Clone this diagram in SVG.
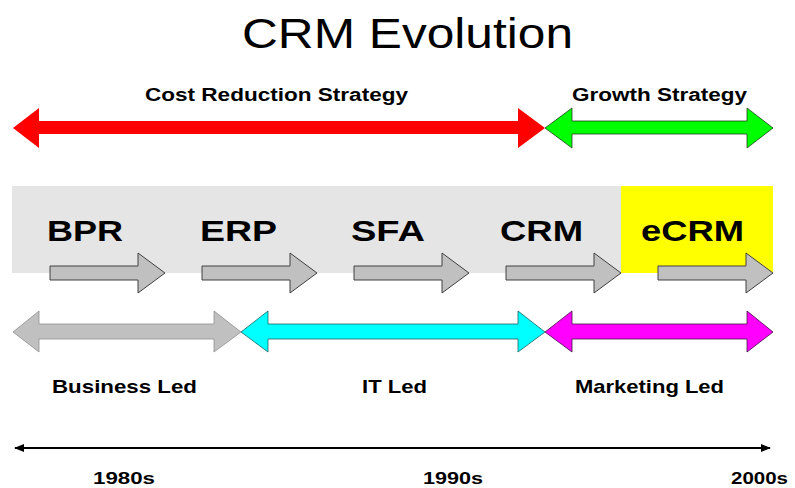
<svg xmlns="http://www.w3.org/2000/svg" xmlns:xlink="http://www.w3.org/1999/xlink" width="795" height="488" viewBox="0 0 795 488">
<style>
text{font-family:"Liberation Sans",Arial,sans-serif;fill:#000}
.b{font-weight:bold}
.lbl{font-size:17.5px}
.big{font-size:30px}
.led{font-size:18.5px}
.yr{font-size:17px}
.sa{fill:#c0c0c0;stroke:#404040;stroke-width:1}
</style>
<defs>
<path id="sm" d="M0,-7 H88 V-20 L115,0 L88,20 V7 H0 Z"/>
<marker id="ah" viewBox="0 0 10 8" refX="9" refY="4" markerWidth="5" markerHeight="4" orient="auto-start-reverse" markerUnits="strokeWidth">
<path d="M0,0 L10,4 L0,8 Z" fill="#000"/>
</marker>
</defs>
<rect width="795" height="488" fill="#fff"/>
<g id="title"><text x="242" y="48" font-size="42" textLength="331" lengthAdjust="spacingAndGlyphs">CRM Evolution</text></g>

<g id="strategy">
<polygon points="13,128 39,108 39,121 518,121 518,108 545,128 518,148 518,134 39,134 39,148" fill="#ff0000"/>
<polygon points="545,128 572,108 572,121 747,121 747,108 773,128 747,148 747,134 572,134 572,148" fill="#00ff00" stroke="#204020" stroke-width="0.8"/>
<text class="b lbl" x="145" y="101" textLength="263" lengthAdjust="spacingAndGlyphs">Cost Reduction Strategy</text>
<text class="b lbl" x="572" y="101" textLength="175" lengthAdjust="spacingAndGlyphs">Growth Strategy</text>
</g>

<g id="band">
<rect x="12" y="186" width="610" height="87" fill="#e5e5e5"/>
<rect x="621" y="186" width="152" height="87" fill="#ffff00"/>
</g>

<g id="connectors">
<use xlink:href="#sm" href="#sm" class="sa" transform="translate(50,273)"/>
<use xlink:href="#sm" href="#sm" class="sa" transform="translate(202,273)"/>
<use xlink:href="#sm" href="#sm" class="sa" transform="translate(354,273)"/>
<use xlink:href="#sm" href="#sm" class="sa" transform="translate(506,273)"/>
<use xlink:href="#sm" href="#sm" class="sa" transform="translate(658,273)"/>
</g>

<g id="bpr"><text class="b big" x="47" y="241" textLength="76" lengthAdjust="spacingAndGlyphs">BPR</text></g>
<g id="erp"><text class="b big" x="200" y="241" textLength="77" lengthAdjust="spacingAndGlyphs">ERP</text></g>
<g id="sfa"><text class="b big" x="351" y="241" textLength="74" lengthAdjust="spacingAndGlyphs">SFA</text></g>
<g id="crm"><text class="b big" x="500" y="241" textLength="83" lengthAdjust="spacingAndGlyphs">CRM</text></g>
<g id="ecrm"><text class="b big" x="641" y="241" textLength="103" lengthAdjust="spacingAndGlyphs">eCRM</text></g>

<g id="led">
<polygon points="13,332 39,311 39,324 214,324 214,311 241,332 214,352 214,339 39,339 39,352" fill="#c0c0c0" stroke="#909090" stroke-width="0.8"/>
<polygon points="241,332 268,311 268,324 518,324 518,311 545,332 518,352 518,339 268,339 268,352" fill="#00ffff" stroke="#206060" stroke-width="0.8"/>
<polygon points="545,332 572,311 572,324 747,324 747,311 773,332 747,352 747,339 572,339 572,352" fill="#ff00ff" stroke="#401040" stroke-width="0.8"/>
<text class="b led" x="52" y="393" textLength="145" lengthAdjust="spacingAndGlyphs">Business Led</text>
<text class="b led" x="362" y="393" textLength="65" lengthAdjust="spacingAndGlyphs">IT Led</text>
<text class="b led" x="575" y="393" textLength="149" lengthAdjust="spacingAndGlyphs">Marketing Led</text>
</g>

<g id="timeline">
<line x1="15" y1="448" x2="770" y2="448" stroke="#000" stroke-width="2" marker-start="url(#ah)" marker-end="url(#ah)"/>
<text class="b yr" x="93" y="484" textLength="62" lengthAdjust="spacingAndGlyphs">1980s</text>
<text class="b yr" x="423" y="484" textLength="60" lengthAdjust="spacingAndGlyphs">1990s</text>
<text class="b yr" x="731" y="484" textLength="57" lengthAdjust="spacingAndGlyphs">2000s</text>
</g>
</svg>
